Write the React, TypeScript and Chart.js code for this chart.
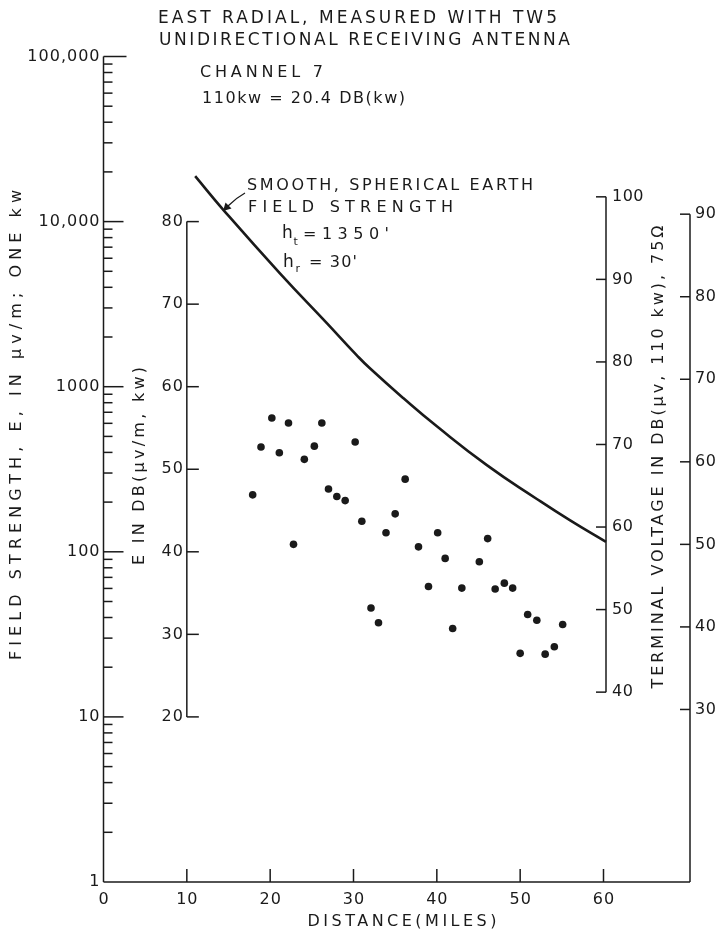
import React, { useEffect, useRef } from 'react';
import { Chart, registerables } from 'chart.js';

Chart.register(...registerables);

// ---------- data ----------
const distanceTicks = [0, 10, 20, 30, 40, 50, 60];
const fieldTickValues = [1, 10, 100, 1000, 10000, 100000];
const fieldTickLabels = ['1', '10', '100', '1000', '10,000', '100,000'];
const dbTicks = [20, 30, 40, 50, 60, 70, 80];
const terminalTicks = [40, 50, 60, 70, 80, 90, 100];
const rightTicks = [30, 40, 50, 60, 70, 80, 90];
const terminalOffset = 17; // terminal voltage dB = E dB + 17
const rightOffset = 9.1; // far right scale = E dB + 9.1

// smooth spherical earth field strength (miles, dB µv/m)
const curveMiles = [11, 14.4, 21.2, 26.8, 30.4, 32, 36, 40, 46, 52, 56, 60.3];
const curveDb = [85.5, 81.4, 73.7, 67.7, 63.8, 62.2, 58.6, 55.2, 50.5, 46.4, 43.8, 41.2];

// measured points (miles, dB µv/m)
const measMiles = [17.9, 18.9, 20.2, 21.1, 22.2, 22.8, 24.1, 25.3, 26.2, 27.0, 28.0, 29.0, 30.2, 31.0, 32.1, 33.0, 33.9, 35.0, 36.2, 37.8, 39.0, 40.1, 41.0, 41.9, 43.0, 45.1, 46.1, 47.0, 48.1, 49.1, 50.0, 50.9, 52.0, 53.0, 54.1, 55.1];
const measDb = [46.9, 52.7, 56.2, 52.0, 55.6, 40.9, 51.2, 52.8, 55.6, 47.6, 46.7, 46.2, 53.3, 43.7, 33.2, 31.4, 42.3, 44.6, 48.8, 40.6, 35.8, 42.3, 39.2, 30.7, 35.6, 38.8, 41.6, 35.5, 36.2, 35.6, 27.7, 32.4, 31.7, 27.6, 28.5, 31.2];

// ---------- drawing helpers ----------
const INK = '#1a1a1a';
const FONT = '"DejaVu Sans", sans-serif';

type LabelOpts = { size: number; width?: number; spacing?: number; align?: 'left' | 'center' | 'right'; rotate?: boolean };

function drawLabel(ctx: CanvasRenderingContext2D, text: string, x: number, y: number, o: LabelOpts) {
  ctx.save();
  ctx.font = `${o.size}px ${FONT}`;
  (ctx as any).letterSpacing = '0px';
  const natural = ctx.measureText(text).width;
  const n = Array.from(text).length;
  let sp = o.spacing ?? 0;
  if (o.width) sp = (o.width - natural) / Math.max(1, n - 1);
  const w = natural + sp * (n - 1);
  (ctx as any).letterSpacing = `${sp}px`;
  ctx.textBaseline = 'middle';
  ctx.textAlign = 'left';
  ctx.fillStyle = INK;
  ctx.translate(x, y);
  if (o.rotate) ctx.rotate(-Math.PI / 2);
  let sx = 0;
  if (o.align === 'center') sx = -w / 2;
  else if (o.align === 'right') sx = -w;
  ctx.fillText(text, sx, 0);
  ctx.restore();
}

function seg(ctx: CanvasRenderingContext2D, x1: number, y1: number, x2: number, y2: number) {
  ctx.beginPath();
  ctx.moveTo(x1, y1);
  ctx.lineTo(x2, y2);
  ctx.stroke();
}

const axesPlugin = {
  id: 'handAxes',
  afterDatasetsDraw(chart: any) {
    const ctx: CanvasRenderingContext2D = chart.ctx;
    const xs = chart.scales.x;
    const ys = chart.scales.y;
    const fs = chart.scales.yF;
    const { left, right, top, bottom } = chart.chartArea;
    ctx.save();
    ctx.strokeStyle = INK;
    ctx.lineWidth = 1.5;
    ctx.lineCap = 'butt';

    // ---- left logarithmic field-strength axis ----
    seg(ctx, left, top, left, bottom);
    fieldTickValues.forEach((v, i) => {
      const py = fs.getPixelForValue(v);
      if (i > 0) seg(ctx, left, py, left + (i === fieldTickValues.length - 1 ? 23 : 20), py);
      drawLabel(ctx, fieldTickLabels[i], left - 4, py, { size: 16, spacing: 1, align: 'right' });
    });
    for (let d = 0; d < 5; d++) {
      for (let m = 2; m <= 9; m++) {
        const py = fs.getPixelForValue(m * Math.pow(10, d));
        seg(ctx, left, py, left + 9, py);
      }
    }

    // ---- bottom distance axis ----
    seg(ctx, left, bottom, right, bottom);
    distanceTicks.forEach((v) => {
      const px = xs.getPixelForValue(v);
      if (v > 0) seg(ctx, px, bottom, px, bottom - 13);
      drawLabel(ctx, String(v), px, bottom + 18, { size: 16, spacing: 1, align: 'center' });
    });

    // ---- E in dB axis (at 10 miles) ----
    const ex = xs.getPixelForValue(10);
    const eTop = ys.getPixelForValue(dbTicks[dbTicks.length - 1]);
    const eBot = ys.getPixelForValue(dbTicks[0]);
    seg(ctx, ex, eTop, ex, eBot);
    dbTicks.forEach((v) => {
      const py = ys.getPixelForValue(v);
      seg(ctx, ex, py, ex + 12, py);
      drawLabel(ctx, String(v), ex - 4, py, { size: 16, spacing: 1, align: 'right' });
    });

    // ---- terminal voltage axis ----
    const tx = xs.getPixelForValue(60.3);
    const tTop = ys.getPixelForValue(terminalTicks[terminalTicks.length - 1] - terminalOffset);
    const tBot = ys.getPixelForValue(terminalTicks[0] - terminalOffset);
    seg(ctx, tx, tTop, tx, tBot);
    terminalTicks.forEach((v) => {
      const py = ys.getPixelForValue(v - terminalOffset);
      seg(ctx, tx, py, tx - 10, py);
      drawLabel(ctx, String(v), tx + 6, py, { size: 16, spacing: 0.5, align: 'left' });
    });

    // ---- far right axis / border ----
    const rTop = ys.getPixelForValue(rightTicks[rightTicks.length - 1] - rightOffset);
    seg(ctx, right, rTop, right, bottom);
    rightTicks.forEach((v) => {
      const py = ys.getPixelForValue(v - rightOffset);
      seg(ctx, right, py, right - 10, py);
      drawLabel(ctx, String(v), right + 5, py, { size: 16, spacing: 0.5, align: 'left' });
    });

    // ---- arrow to curve ----
    ctx.lineWidth = 1.3;
    ctx.beginPath();
    ctx.moveTo(245, 193);
    ctx.quadraticCurveTo(236, 198, 228, 206);
    ctx.stroke();
    ctx.fillStyle = INK;
    ctx.beginPath();
    ctx.moveTo(223, 211);
    ctx.lineTo(225.5, 202.5);
    ctx.lineTo(231.5, 208.5);
    ctx.closePath();
    ctx.fill();

    // ---- annotations ----
    drawLabel(ctx, 'EAST RADIAL, MEASURED WITH TW5', 158, 19, { size: 17, width: 399 });
    drawLabel(ctx, 'UNIDIRECTIONAL RECEIVING ANTENNA', 159, 41, { size: 17, width: 411 });
    drawLabel(ctx, 'CHANNEL 7', 200, 73, { size: 16, width: 123 });
    drawLabel(ctx, '110kw = 20.4 DB(kw)', 202, 99, { size: 16, width: 203 });
    drawLabel(ctx, 'SMOOTH, SPHERICAL EARTH', 247, 186, { size: 16, width: 286 });
    drawLabel(ctx, 'FIELD STRENGTH', 248, 208, { size: 16, width: 205 });
    drawLabel(ctx, 'h', 282, 234, { size: 17 });
    drawLabel(ctx, 't', 293.5, 242, { size: 11 });
    drawLabel(ctx, "=1350'", 303, 235, { size: 16, width: 86 });
    drawLabel(ctx, 'h', 283, 263, { size: 17 });
    drawLabel(ctx, 'r', 295.5, 269, { size: 11 });
    drawLabel(ctx, "= 30'", 309, 263, { size: 16, width: 48 });

    // ---- axis titles ----
    drawLabel(ctx, 'FIELD STRENGTH, E, IN \u00b5v/m; ONE kw', 17, 425, { size: 16, width: 470, align: 'center', rotate: true });
    drawLabel(ctx, 'E IN DB(\u00b5v/m, kw)', 140, 466, { size: 16, width: 198, align: 'center', rotate: true });
    drawLabel(ctx, 'TERMINAL VOLTAGE IN DB(\u00b5v, 110 kw), 75\u03a9', 659, 457, { size: 16, width: 463, align: 'center', rotate: true });
    drawLabel(ctx, 'DISTANCE(MILES)', 402, 922, { size: 16, width: 189, align: 'center' });

    ctx.restore();
  },
};

export default function App() {
  const ref = useRef<HTMLCanvasElement>(null);
  useEffect(() => {
    const canvas = ref.current!;
    const chart = new Chart(canvas, {
      type: 'scatter',
      data: {
        datasets: [
          {
            label: 'Smooth spherical earth field strength',
            data: curveMiles.map((m, i) => ({ x: m, y: curveDb[i] })),
            showLine: true,
            borderColor: INK,
            borderWidth: 2.6,
            pointRadius: 0,
            tension: 0.5,
            fill: false,
            xAxisID: 'x',
            yAxisID: 'y',
          } as any,
          {
            label: 'Measured',
            data: measMiles.map((m, i) => ({ x: m, y: measDb[i] })),
            backgroundColor: INK,
            borderColor: INK,
            pointRadius: 3.8,
            borderWidth: 0,
            xAxisID: 'x',
            yAxisID: 'y',
          } as any,
        ],
      },
      options: {
        responsive: false,
        animation: false,
        devicePixelRatio: 1,
        layout: { padding: { left: 103.5, right: 31, top: 56.5, bottom: 54 } },
        plugins: { legend: { display: false }, tooltip: { enabled: false } },
        scales: {
          x: { type: 'linear', min: 0, max: 70.38, display: false },
          y: { type: 'linear', min: 0, max: 100, display: false },
          yF: { type: 'logarithmic', min: 1, max: 100000, display: false, position: 'left' },
        },
      } as any,
      plugins: [axesPlugin],
    });
    return () => chart.destroy();
  }, []);

  return (
    <div style={{ position: 'fixed', left: 0, top: 0, width: 721, height: 936, background: '#fff' }}>
      <canvas ref={ref} width={721} height={936} style={{ display: 'block', width: 721, height: 936 }} />
    </div>
  );
}
